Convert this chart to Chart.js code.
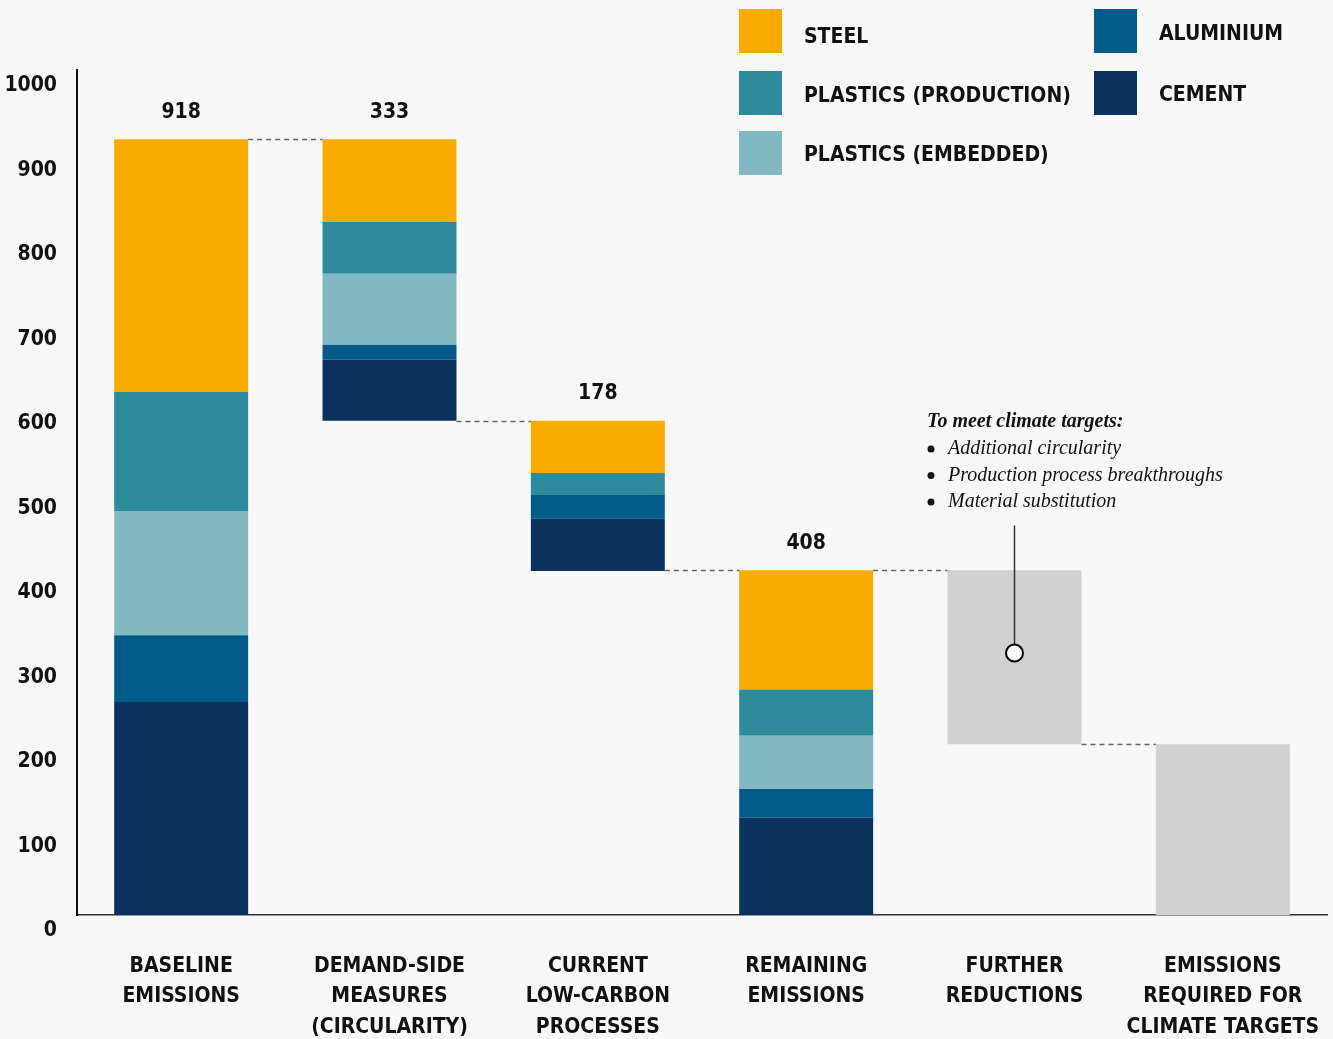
<!DOCTYPE html>
<html>
<head>
<meta charset="utf-8">
<script src="https://cdn.jsdelivr.net/npm/chart.js@4.4.1/dist/chart.umd.min.js"></script>
<style>
  html, body { margin: 0; padding: 0; background: #f8f8f8; }
  canvas { display: block; }
</style>
</head>
<body>
<canvas id="emissionsChart" width="1333" height="1039"></canvas>
<script>
const categories = [
    ['BASELINE', 'EMISSIONS'],
    ['DEMAND-SIDE', 'MEASURES', '(CIRCULARITY)'],
    ['CURRENT', 'LOW-CARBON', 'PROCESSES'],
    ['REMAINING', 'EMISSIONS'],
    ['FURTHER', 'REDUCTIONS'],
    ['EMISSIONS', 'REQUIRED FOR', 'CLIMATE TARGETS']
];
const cement = [252, 72, 62, 115, 0, 0];
const aluminium = [79, 18, 28, 34, 0, 0];
const plasticsEmbedded = [147, 84, 0, 63, 0, 0];
const plasticsProduction = [141, 61, 26, 55, 0, 0];
const steel = [299, 98, 62, 141, 0, 0];
const otherTotals = [0, 0, 0, 0, 206, 202];
const barLabels = ['918', '333', '178', '408', '', ''];
// reductions hang from the previous level (waterfall)
const isReduction = [false, true, true, false, true, false];
const yTicks = [0, 100, 200, 300, 400, 500, 600, 700, 800, 900, 1000];

const COND = "'Liberation Sans Narrow', 'DejaVu Sans Condensed', 'Roboto Condensed', sans-serif";
const SERIF = "'Liberation Serif', 'DejaVu Serif', serif";

const colors = {
    steel: '#f9ab00',
    production: '#2e8b9b',
    embedded: '#82b8c2',
    aluminium: '#005b8b',
    cement: '#0a325c',
    other: '#d0d1d0'
};

// totals per bar and the invisible base for floating bars
const totals = categories.map((c, i) =>
    cement[i] + aluminium[i] + plasticsEmbedded[i] + plasticsProduction[i] + steel[i] + otherTotals[i]);
const base = [];
let level = 0;
totals.forEach((t, i) => {
    if (isReduction[i]) {
        level = level - t;
        base.push(level);
    } else {
        base.push(0);
        level = t;
    }
});

const legendItems = [
    { text: 'STEEL', color: colors.steel, x: 739, y: 9, base: 43 },
    { text: 'PLASTICS (PRODUCTION)', color: colors.production, x: 739, y: 71, base: 102 },
    { text: 'PLASTICS (EMBEDDED)', color: colors.embedded, x: 739, y: 131, base: 161 },
    { text: 'ALUMINIUM', color: colors.aluminium, x: 1094, y: 9, base: 40 },
    { text: 'CEMENT', color: colors.cement, x: 1094, y: 71, base: 101 }
];

const extrasPlugin = {
    id: 'extras',
    afterDatasetsDraw(chart) {
        const ctx = chart.ctx;
        const y = chart.scales.y;
        const bars = chart.getDatasetMeta(1).data;
        const half = bars[0].width / 2;

        // dashed connectors
        ctx.save();
        ctx.strokeStyle = '#666';
        ctx.lineWidth = 1.5;
        ctx.setLineDash([5, 4]);
        for (let i = 0; i < totals.length - 1; i++) {
            const lvl = base[i + 1] + totals[i + 1];
            const py = Math.round(y.getPixelForValue(lvl)) + 0.5;
            ctx.beginPath();
            ctx.moveTo(bars[i].x + half, py);
            ctx.lineTo(bars[i + 1].x - half, py);
            ctx.stroke();
        }
        ctx.restore();

        // value labels above bars
        ctx.save();
        ctx.fillStyle = '#111';
        ctx.font = 'bold 21px ' + COND;
        ctx.textAlign = 'center';
        ctx.textBaseline = 'middle';
        barLabels.forEach((lab, i) => {
            if (!lab) return;
            ctx.fillText(lab, bars[i].x, y.getPixelForValue(base[i] + totals[i]) - 27);
        });
        ctx.restore();

        // annotation for further reductions
        const ax = bars[4].x;
        ctx.save();
        ctx.strokeStyle = '#333';
        ctx.lineWidth = 1.5;
        ctx.beginPath();
        ctx.moveTo(ax, y.getPixelForValue(461));
        ctx.lineTo(ax, y.getPixelForValue(310));
        ctx.stroke();
        ctx.beginPath();
        ctx.arc(ax, y.getPixelForValue(310), 8.5, 0, Math.PI * 2);
        ctx.fillStyle = '#fff';
        ctx.fill();
        ctx.lineWidth = 2;
        ctx.strokeStyle = '#000';
        ctx.stroke();

        ctx.fillStyle = '#111';
        ctx.textBaseline = 'middle';
        ctx.textAlign = 'left';
        ctx.font = 'italic bold 20px ' + SERIF;
        ctx.fillText('To meet climate targets:', 927, 422);
        ctx.font = 'italic 20px ' + SERIF;
        ['Additional circularity', 'Production process breakthroughs', 'Material substitution']
            .forEach((t, k) => {
                const ly = 449 + k * 26.5;
                ctx.beginPath();
                ctx.arc(931, ly, 3.5, 0, Math.PI * 2);
                ctx.fill();
                ctx.fillText(t, 948, ly);
            });
        ctx.restore();

        // legend
        ctx.save();
        ctx.font = 'bold 21px ' + COND;
        ctx.textBaseline = 'alphabetic';
        ctx.textAlign = 'left';
        legendItems.forEach(it => {
            ctx.fillStyle = it.color;
            ctx.fillRect(it.x, it.y, 43, 44);
            ctx.fillStyle = '#111';
            ctx.fillText(it.text, it.x + 65, it.base);
        });
        ctx.restore();
    }
};

const bgPlugin = {
    id: 'bg',
    beforeDraw(chart) {
        const ctx = chart.ctx;
        ctx.save();
        ctx.fillStyle = '#f8f8f8';
        ctx.fillRect(0, 0, chart.width, chart.height);
        ctx.restore();
    }
};

function ds(label, data, color) {
    return {
        label: label,
        data: data,
        backgroundColor: color,
        borderWidth: 0,
        barPercentage: 0.643,
        categoryPercentage: 1
    };
}

const ctx = document.getElementById('emissionsChart').getContext('2d');
new Chart(ctx, {
    type: 'bar',
    data: {
        labels: categories,
        datasets: [
            ds('base', base, 'rgba(0,0,0,0)'),
            ds('Cement', cement, colors.cement),
            ds('Aluminium', aluminium, colors.aluminium),
            ds('Plastics (embedded)', plasticsEmbedded, colors.embedded),
            ds('Plastics (production)', plasticsProduction, colors.production),
            ds('Steel', steel, colors.steel),
            ds('Other', otherTotals, colors.other)
        ]
    },
    options: {
        responsive: false,
        animation: false,
        layout: { padding: { top: 70, right: 6, left: 0, bottom: 0 } },
        plugins: {
            legend: { display: false },
            tooltip: { enabled: false }
        },
        scales: {
            x: {
                stacked: true,
                grid: { display: false, drawTicks: false },
                border: { display: true, color: '#333', width: 1.5 },
                afterFit(scale) {
                    scale.height = 124;
                    scale.paddingLeft = 0;
                    scale.paddingRight = 0;
                },
                ticks: {
                    color: '#111',
                    font: { family: COND, size: 21, weight: 'bold', lineHeight: 1.43 },
                    padding: 37,
                    maxRotation: 0,
                    autoSkip: false
                }
            },
            y: {
                stacked: true,
                min: 0,
                max: 1000,
                afterBuildTicks(scale) {
                    scale.ticks = yTicks.map(v => ({ value: v }));
                },
                afterFit(scale) { scale.width = 77; },
                grid: { display: false, drawTicks: false },
                border: { display: true, color: '#111', width: 2 },
                ticks: {
                    color: '#111',
                    font: { family: COND, size: 21, weight: 'bold' },
                    padding: 20,
                    labelOffset: 16,
                    callback: v => String(v)
                }
            }
        }
    },
    plugins: [bgPlugin, extrasPlugin]
});
</script>
</body>
</html>
